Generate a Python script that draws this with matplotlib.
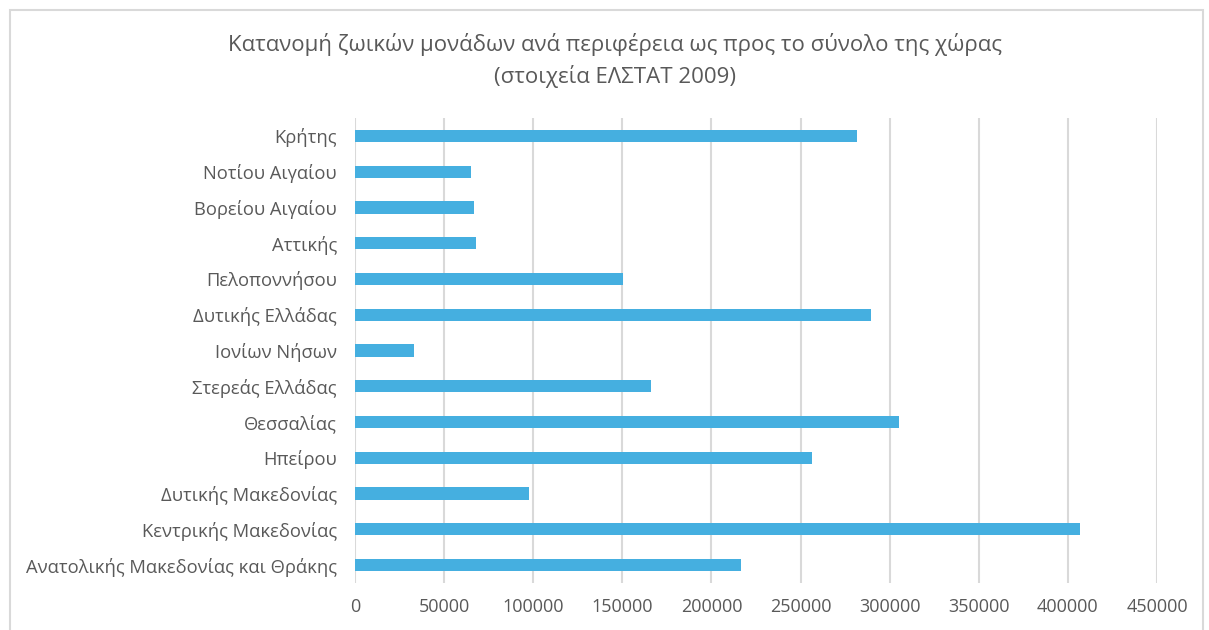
import matplotlib.pyplot as plt
from matplotlib.patches import Rectangle

# Περιφέρειες (από κάτω προς τα πάνω, όπως στο γράφημα)
perifereies = [
    'Ανατολικής Μακεδονίας και Θράκης',
    'Κεντρικής Μακεδονίας',
    'Δυτικής Μακεδονίας',
    'Ηπείρου',
    'Θεσσαλίας',
    'Στερεάς Ελλάδας',
    'Ιονίων Νήσων',
    'Δυτικής Ελλάδας',
    'Πελοποννήσου',
    'Αττικής',
    'Βορείου Αιγαίου',
    'Νοτίου Αιγαίου',
    'Κρήτης',
]
zoikes_monades = [216700, 406600, 97500, 256700, 305200, 166200, 33100,
                  289500, 150300, 68100, 66800, 65100, 281400]
x_ticks = [0, 50000, 100000, 150000, 200000, 250000, 300000, 350000, 400000, 450000]

plt.rcParams['font.family'] = ['Open Sans', 'DejaVu Sans']

fig = plt.figure(figsize=(12.09, 6.30), dpi=100)
ax = fig.add_axes([355 / 1209, 1 - 583 / 630, (1157 - 355) / 1209, (583 - 118) / 630])

ax.barh(range(len(perifereies)), zoikes_monades, height=0.34, color='#45AFE0', zorder=3)

ax.set_xlim(0, 450000)
ax.set_ylim(-0.5, len(perifereies) - 0.5)
ax.set_xticks(x_ticks)
ax.set_xticklabels([str(v) for v in x_ticks], fontsize=13, color='#595959')
ax.set_yticks(range(len(perifereies)))
ax.set_yticklabels(perifereies, fontsize=13.2, color='#595959')
ax.tick_params(axis='both', length=0)
ax.tick_params(axis='x', pad=11)
ax.tick_params(axis='y', pad=13)

ax.grid(axis='x', color='#D9D9D9', linewidth=1.5, zorder=0)
for s in ax.spines.values():
    s.set_visible(False)

fig.text(615 / 1209, 1 - 45 / 630, 'Κατανομή ζωικών μονάδων ανά περιφέρεια ως προς το σύνολο της χώρας',
         ha='center', va='center', fontsize=16, color='#595959')
fig.text(615 / 1209, 1 - 76 / 630, '(στοιχεία ΕΛΣΤΑΤ 2009)',
         ha='center', va='center', fontsize=16, color='#595959')

# Πλαίσιο του γραφήματος
fig.patches.append(Rectangle((10 / 1209, -0.05), 1193 / 1209, 1.05 - 10 / 630,
                             transform=fig.transFigure, fill=False,
                             edgecolor='#D9D9D9', linewidth=1.5))

fig.savefig('out.png', dpi=100, facecolor='white')
